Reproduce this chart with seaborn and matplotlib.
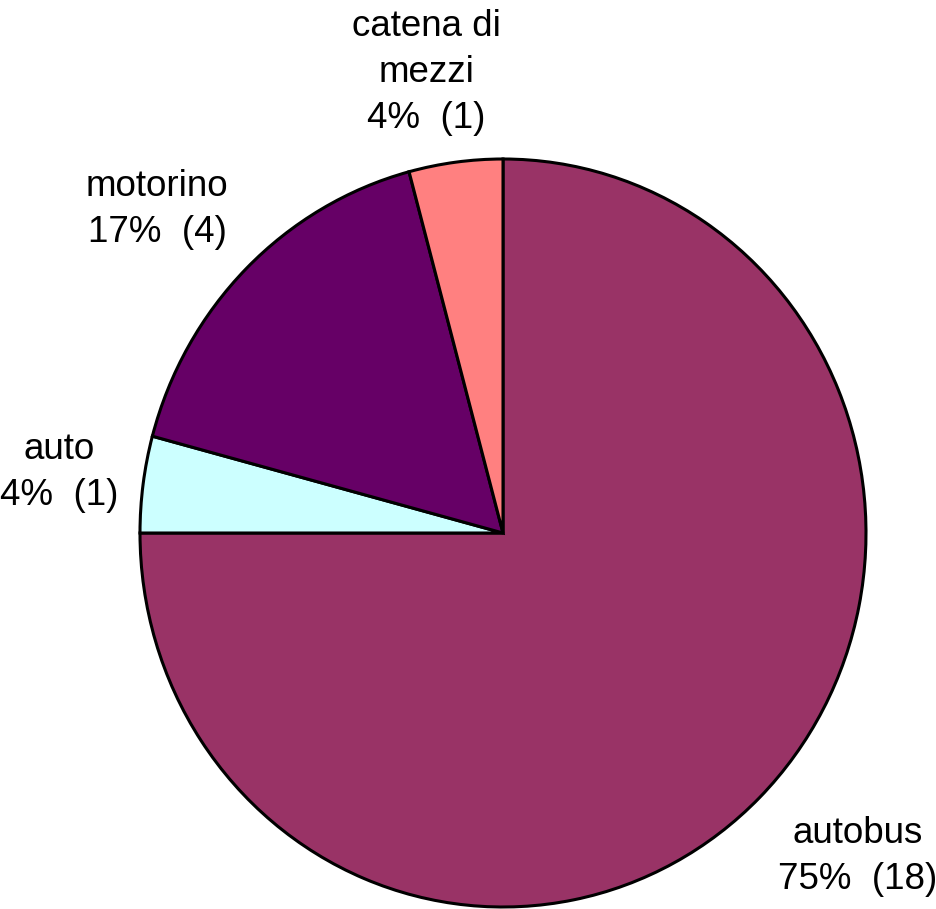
import matplotlib
matplotlib.use("Agg")
import numpy as np
import matplotlib.pyplot as plt
import seaborn as sns

sns.set_theme(style="white")
plt.rcParams['font.family'] = ['Liberation Sans', 'DejaVu Sans']

# mezzo di trasporto -> numero di risposte
categories = ['autobus', 'auto', 'motorino', 'catena di\nmezzi']
counts = [18, 1, 4, 1]
colors = ['#993366', '#CCFFFF', '#660066', '#FF8080']

total = sum(counts)
labels = [f"{c}\n{round(n / total * 100)}%  ({n})" for c, n in zip(categories, counts)]

fig = plt.figure(figsize=(9.36, 9.09), dpi=100)
# pie area is a bit taller than wide in the reference
ax = fig.add_axes([140 / 936, 2 / 909, 726 / 936, 748 / 909])
wedges, texts = ax.pie(counts, labels=labels, colors=colors, startangle=90,
                       counterclock=False, labeldistance=1.07,
                       wedgeprops=dict(edgecolor='black', linewidth=2.2),
                       textprops=dict(fontsize=26.5, color='black'))
ax.set_aspect('auto')
ax.set_xlim(-1, 1)
ax.set_ylim(-1, 1)
ax.axis('off')

# excel-like label placement: box pushed outward from an anchor just outside the rim
for w, t in zip(wedges, texts):
    t.set_ha('center')
    t.set_va('center')
    t.set_multialignment('center')
    t.set_linespacing(1.42)

fig.canvas.draw()
renderer = fig.canvas.get_renderer()
px_x = ax.bbox.width / 2
px_y = ax.bbox.height / 2
for w, t in zip(wedges, texts):
    ang = np.deg2rad((w.theta1 + w.theta2) / 2)
    bb = t.get_window_extent(renderer)
    f = np.clip(np.cos(ang) * 2.7, -1, 1)
    g = np.clip(np.sin(ang) * 1.5, -1, 1)
    x, y = t.get_position()
    t.set_position((x + f * bb.width / 2 / px_x, y + g * bb.height / 2 / px_y))

fig.savefig('out.png', dpi=100, facecolor='white')
